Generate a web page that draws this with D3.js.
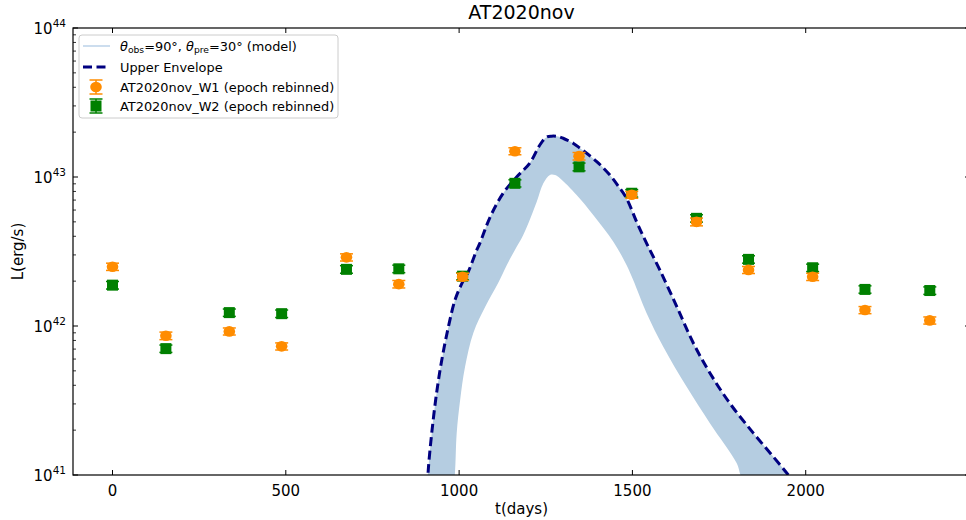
<!DOCTYPE html>
<html>
<head>
<meta charset="utf-8">
<script src="https://cdn.jsdelivr.net/npm/d3@7"></script>
<style>
  html, body { margin: 0; padding: 0; background: #fff; }
  svg { display: block; font-family: "DejaVu Sans", sans-serif; }
</style>
</head>
<body>
<svg id="chart" width="966" height="520"></svg>
<script>
// ---------------- data ----------------
const titleText = "AT2020nov";
const xTicks = [0, 500, 1000, 1500, 2000];
const yTicks = [1e41, 1e42, 1e43, 1e44];
const yTickExp = ["41", "42", "43", "44"];

// observed epochs (days)
const tObs = [0, 154, 337, 488, 675, 826, 1010, 1161, 1346, 1498, 1685, 1835, 2020, 2171, 2358];
// AT2020nov_W1 (epoch rebinned), erg/s
const lumW1 = [2.50e42, 8.6e41, 9.2e41, 7.3e41, 2.89e42, 1.91e42, 2.14e42, 1.49e43, 1.38e43, 7.6e42, 5.0e42, 2.38e42, 2.14e42, 1.28e42, 1.09e42];
const errW1 = [1.4e41, 5e40, 5e40, 4e40, 1.6e41, 1.1e41, 1.2e41, 8e41, 8e41, 4e41, 3e41, 1.3e41, 1.2e41, 7e40, 6e40];
// AT2020nov_W2 (epoch rebinned), erg/s
const lumW2 = [1.88e42, 7.05e41, 1.23e42, 1.21e42, 2.40e42, 2.42e42, 2.16e42, 9.07e42, 1.17e43, 7.78e42, 5.28e42, 2.80e42, 2.46e42, 1.76e42, 1.73e42];
const errW2 = [1.1e41, 4e40, 7e40, 7e40, 1.4e41, 1.4e41, 1.2e41, 5e41, 7e41, 4.5e41, 3e41, 1.6e41, 1.4e41, 1e41, 1e41];

// Upper envelope of the model (dashed)
const tEnv = [907, 911, 921, 935, 950, 969, 988, 1007, 1026, 1051, 1060, 1090, 1127, 1166, 1204, 1233, 1252, 1267, 1285, 1300, 1330, 1349, 1397, 1435, 1459, 1483, 1512, 1541, 1579, 1628, 1676, 1724, 1781, 1849, 1906, 1950, 1983];
const lumEnv = [6.8e40, 1.08e41, 1.91e41, 3.55e41, 5.91e41, 9.85e41, 1.49e42, 1.91e42, 2.30e42, 3.24e42, 3.6e42, 5.42e42, 7.78e42, 1.00e43, 1.24e43, 1.64e43, 1.85e43, 1.88e43, 1.87e43, 1.82e43, 1.68e43, 1.56e43, 1.27e43, 1.03e43, 8.7e42, 7.19e42, 5.01e42, 3.59e42, 2.38e42, 1.35e42, 7.66e41, 4.82e41, 3.03e41, 1.91e41, 1.33e41, 1.0e41, 7.9e40];

// Lower edge of the model band
const tLow = [982, 988, 993, 1003, 1017, 1041, 1075, 1113, 1137, 1161, 1185, 1224, 1243, 1262, 1277, 1291, 1339, 1387, 1445, 1483, 1502, 1541, 1589, 1656, 1724, 1801, 1812, 1840];
const lumLow = [7.9e40, 1.03e41, 1.91e41, 3.19e41, 5.31e41, 8.98e41, 1.34e42, 1.95e42, 2.55e42, 3.24e42, 4.08e42, 6.83e42, 9.07e42, 1.03e43, 1.03e43, 9.8e42, 7.57e42, 5.56e42, 3.68e42, 2.57e42, 2.04e42, 1.22e42, 7.26e41, 3.92e41, 2.22e41, 1.20e41, 1.0e41, 7.0e40];

const legendLabels = ["Upper Envelope", "AT2020nov_W1 (epoch rebinned)", "AT2020nov_W2 (epoch rebinned)"];

// ---------------- layout ----------------
const W = 966, H = 520;
const m = { left: 73, top: 28, right: 970, bottom: 475 };
const svg = d3.select("#chart");

const x = d3.scaleLinear().domain([-114, 2474]).range([m.left, m.right]);
const y = d3.scaleLog().domain([1e41, 1e44]).range([m.bottom, m.top]);

const C_BAND = "#b5cde1", C_ENV = "#000080", C_W1 = "#ff8c00", C_W2 = "#008000";

svg.append("defs").append("clipPath").attr("id", "clip")
  .append("rect").attr("x", m.left).attr("y", m.top)
  .attr("width", m.right - m.left).attr("height", m.bottom - m.top);

const plot = svg.append("g").attr("clip-path", "url(#clip)");

// model band: upper envelope forward, lower edge backward
const envPts = tEnv.map((t, i) => [t, lumEnv[i]]);
const lowPts = tLow.map((t, i) => [t, lumLow[i]]);
const bandPts = envPts.concat(lowPts.slice().reverse());
const lineGen = d3.line().x(d => x(d[0])).y(d => y(d[1])).curve(d3.curveCatmullRom.alpha(0.5));
const polyGen = d3.line().x(d => x(d[0])).y(d => y(d[1])).curve(d3.curveCatmullRomClosed.alpha(0.5));

plot.append("path").attr("d", polyGen(bandPts))
  .attr("fill", C_BAND).attr("stroke", "none");

plot.append("path").attr("d", lineGen(envPts))
  .attr("fill", "none").attr("stroke", C_ENV).attr("stroke-width", 3)
  .attr("stroke-dasharray", "9,4.5");

// error bars + markers
function drawSeries(lum, err, color, shape) {
  const g = plot.append("g");
  tObs.forEach((t, i) => {
    const cx = x(t);
    const y0 = y(lum[i] - err[i]), y1 = y(lum[i] + err[i]);
    g.append("line").attr("x1", cx).attr("x2", cx).attr("y1", y0).attr("y2", y1)
      .attr("stroke", color).attr("stroke-width", 1.5);
    [y0, y1].forEach(yy => g.append("line").attr("x1", cx - 6.5).attr("x2", cx + 6.5)
      .attr("y1", yy).attr("y2", yy).attr("stroke", color).attr("stroke-width", 1.5));
    if (shape === "circle") {
      g.append("ellipse").attr("cx", cx).attr("cy", y(lum[i])).attr("rx", 5.8).attr("ry", 5.3)
        .attr("fill", color);
    } else {
      g.append("rect").attr("x", cx - 5.5).attr("y", y(lum[i]) - 5.5)
        .attr("width", 11).attr("height", 11).attr("fill", color);
    }
  });
}
drawSeries(lumW2, errW2, C_W2, "square");
drawSeries(lumW1, errW1, C_W1, "circle");

// ---------------- axes ----------------
const axes = svg.append("g");
axes.append("rect").attr("x", m.left).attr("y", m.top)
  .attr("width", m.right - m.left).attr("height", m.bottom - m.top)
  .attr("fill", "none").attr("stroke", "#000").attr("stroke-width", 1.2);

// x ticks (inward, bottom and top)
xTicks.forEach(v => {
  const xx = x(v);
  axes.append("line").attr("x1", xx).attr("x2", xx).attr("y1", m.bottom).attr("y2", m.bottom - 5)
    .attr("stroke", "#000").attr("stroke-width", 1);
  axes.append("line").attr("x1", xx).attr("x2", xx).attr("y1", m.top).attr("y2", m.top + 5)
    .attr("stroke", "#000").attr("stroke-width", 1);
  axes.append("text").attr("x", xx).attr("y", 496).attr("text-anchor", "middle")
    .attr("font-size", 15).attr("fill", "#000").text(String(v));
});

// y ticks: major + minor, inward on left and right
yTicks.forEach((v, i) => {
  const yy = y(v);
  axes.append("line").attr("x1", m.left).attr("x2", m.left + 5).attr("y1", yy).attr("y2", yy)
    .attr("stroke", "#000").attr("stroke-width", 1);
  axes.append("line").attr("x1", m.right).attr("x2", m.right - 5).attr("y1", yy).attr("y2", yy)
    .attr("stroke", "#000").attr("stroke-width", 1);
  const t = axes.append("text").attr("x", 66).attr("y", yy + 6).attr("text-anchor", "end")
    .attr("font-size", 15).attr("fill", "#000");
  t.append("tspan").text("10");
  t.append("tspan").attr("dy", -7).attr("font-size", 10.5).text(yTickExp[i]);
  if (i < yTicks.length - 1) {
    for (let k = 2; k <= 9; k++) {
      const ym = y(v * k);
      axes.append("line").attr("x1", m.left).attr("x2", m.left + 3).attr("y1", ym).attr("y2", ym)
        .attr("stroke", "#000").attr("stroke-width", 0.8);
      axes.append("line").attr("x1", m.right).attr("x2", m.right - 3).attr("y1", ym).attr("y2", ym)
        .attr("stroke", "#000").attr("stroke-width", 0.8);
    }
  }
});

// labels
svg.append("text").attr("x", (m.left + m.right) / 2).attr("y", 514).attr("text-anchor", "middle")
  .attr("font-size", 15).text("t(days)");
svg.append("text").attr("transform", `translate(23,${(m.top + m.bottom) / 2}) rotate(-90)`)
  .attr("text-anchor", "middle").attr("font-size", 15).text("L(erg/s)");
svg.append("text").attr("x", (m.left + m.right) / 2).attr("y", 19).attr("text-anchor", "middle")
  .attr("font-size", 19).text(titleText);

// ---------------- legend ----------------
const lg = svg.append("g");
lg.append("rect").attr("x", 79).attr("y", 35).attr("width", 259).attr("height", 83)
  .attr("rx", 3).attr("fill", "#fff").attr("fill-opacity", 0.85)
  .attr("stroke", "#cccccc").attr("stroke-width", 1);
const rowY = [46, 67, 87, 106];
const tx = 120;
const LF = 12.9;
// row 0: model line
lg.append("line").attr("x1", 83).attr("x2", 110).attr("y1", rowY[0]).attr("y2", rowY[0])
  .attr("stroke", "#a9c7e3").attr("stroke-width", 1.2);
const t0 = lg.append("text").attr("x", tx).attr("y", rowY[0] + 4.5).attr("font-size", LF);
t0.append("tspan").attr("font-style", "italic").text("θ");
t0.append("tspan").attr("font-size", 9.2).attr("dy", 2.5).text("obs");
t0.append("tspan").attr("dy", -2.5).text("=90°, ");
t0.append("tspan").attr("font-style", "italic").text("θ");
t0.append("tspan").attr("font-size", 9.2).attr("dy", 2.5).text("pre");
t0.append("tspan").attr("dy", -2.5).text("=30° (model)");
// row 1: envelope
lg.append("line").attr("x1", 83).attr("x2", 110).attr("y1", rowY[1]).attr("y2", rowY[1])
  .attr("stroke", C_ENV).attr("stroke-width", 3).attr("stroke-dasharray", "9,4.5");
lg.append("text").attr("x", tx).attr("y", rowY[1] + 4.5).attr("font-size", LF).text(legendLabels[0]);
// rows 2,3: data
[[C_W1, "circle"], [C_W2, "square"]].forEach(([c, s], j) => {
  const yy = rowY[2 + j], cx = 96;
  lg.append("line").attr("x1", cx).attr("x2", cx).attr("y1", yy - 7).attr("y2", yy + 7)
    .attr("stroke", c).attr("stroke-width", 1.5);
  [yy - 7, yy + 7].forEach(v => lg.append("line").attr("x1", cx - 6.5).attr("x2", cx + 6.5)
    .attr("y1", v).attr("y2", v).attr("stroke", c).attr("stroke-width", 1.5));
  if (s === "circle") lg.append("ellipse").attr("cx", cx).attr("cy", yy).attr("rx", 5.8).attr("ry", 5.3).attr("fill", c);
  else lg.append("rect").attr("x", cx - 5.5).attr("y", yy - 5.5).attr("width", 11).attr("height", 11).attr("fill", c);
  lg.append("text").attr("x", tx).attr("y", yy + 4.5).attr("font-size", LF).text(legendLabels[1 + j]);
});
</script>
</body>
</html>
